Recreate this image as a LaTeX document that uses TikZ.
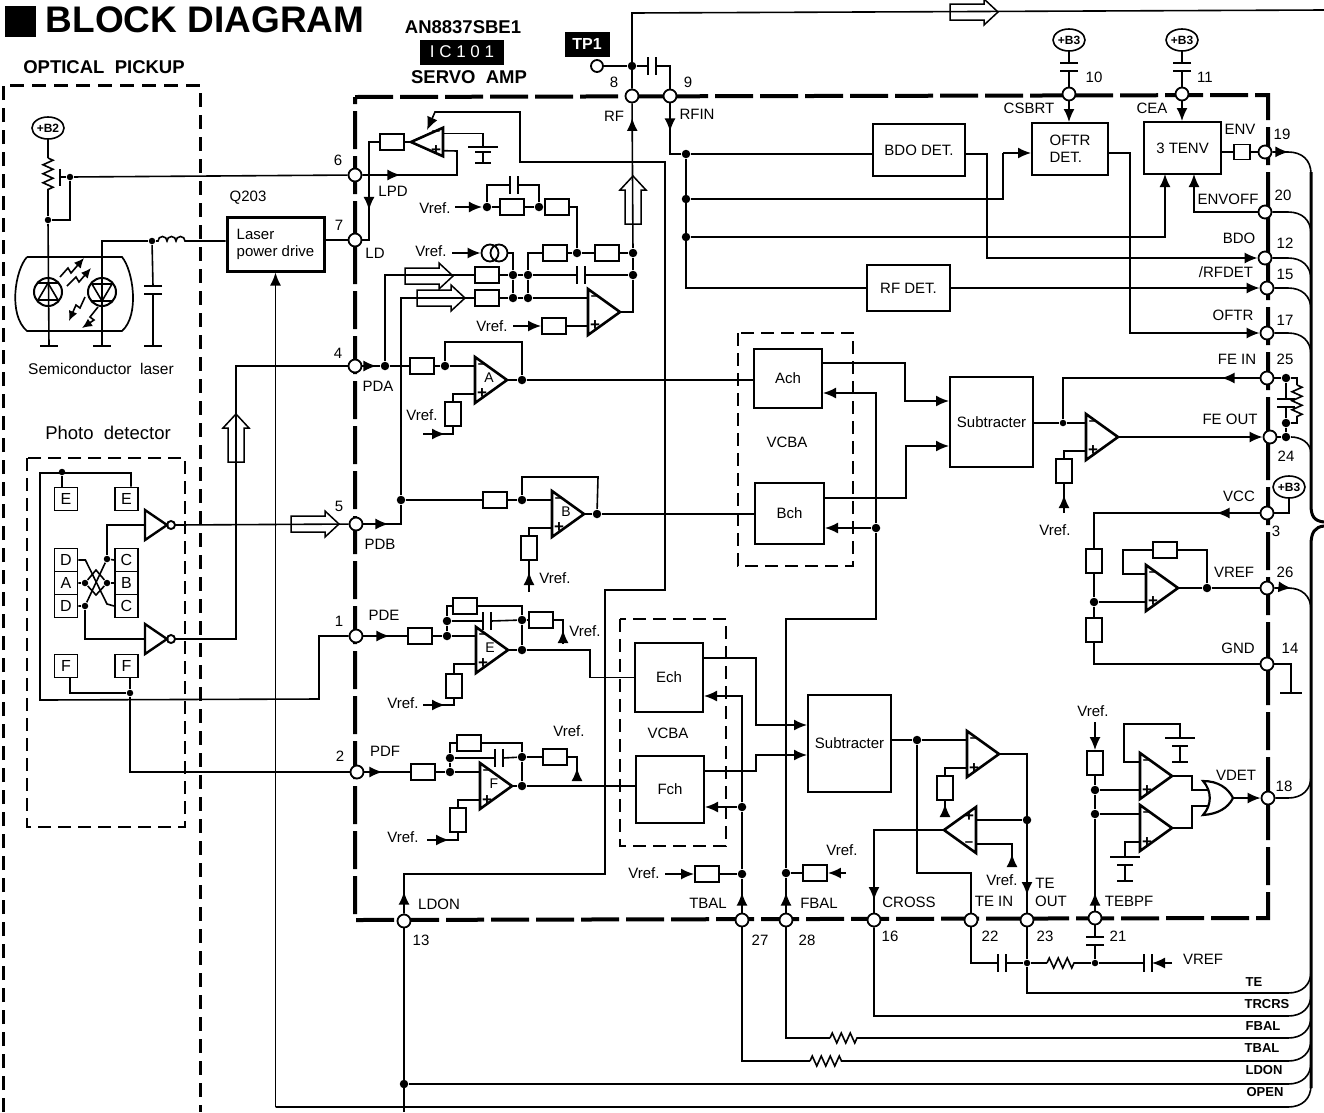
\documentclass[tikz,border=0pt]{standalone}
\usepackage{fontspec}
\setmainfont{Liberation Sans}
\usetikzlibrary{arrows.meta,shapes.geometric,decorations.pathmorphing,decorations.markings,calc}

\begin{document}
\begin{tikzpicture}[
    x=1pt, y=-1pt, line width=1.6pt,
    lbl/.style={font=\fontsize{15}{17}\selectfont, inner sep=0pt},
    smallbold/.style={font=\fontsize{13}{15}\selectfont\bfseries, inner sep=0pt},
    hdr/.style={font=\fontsize{18.5}{20}\selectfont\bfseries, inner sep=0pt},
    pad/.style={circle, draw, fill=white, line width=1.8pt, minimum size=13pt, inner sep=0pt},
    jdot/.style={circle, fill=black, minimum size=8.5pt, inner sep=0pt},
    jsm/.style={jdot, minimum size=6.5pt},
    res/.style={draw, fill=white, line width=1.9pt, minimum width=24pt, minimum height=16pt, inner sep=0pt},
    vres/.style={res, minimum width=16pt, minimum height=24pt},
    block/.style={draw, line width=2pt, font=\fontsize{15}{17}\selectfont, inner sep=0pt},
    cell/.style={draw, line width=1.8pt, minimum size=23pt, inner sep=0pt, font=\fontsize{16}{16}\selectfont},
    supply/.style={ellipse, draw, line width=1.6pt, minimum width=32pt, minimum height=22pt, inner sep=0pt, font=\fontsize{12}{12}\selectfont\bfseries},
    chipframe/.style={line width=4pt, dash pattern=on 38pt off 7pt},
    unitframe/.style={line width=3pt, dash pattern=on 14pt off 8pt},
    subframe/.style={line width=2.3pt, dash pattern=on 13pt off 7pt},
    plate/.style={line width=2.2pt},
    bus/.style={line width=3pt},
    arr/.style={-{Latex[length=13pt,width=11pt]}},
    midtip/.style={postaction={decorate}, decoration={markings, mark=at position #1 with {\arrow{Latex[length=13pt,width=11pt]}}}},
    zig/.style={decorate, decoration={zigzag, amplitude=5pt, segment length=9pt}},
    opamp/.pic={
        \draw[line width=2.6pt] (0,-23) -- (32,0) -- (0,23) -- cycle;
        \node[font=\fontsize{15}{15}\selectfont\bfseries, inner sep=0pt] (-minus) at (7,-14) {--};
        \node[font=\fontsize{17}{17}\selectfont\bfseries, inner sep=0pt] (-plus) at (7,14) {+};
        \node[font=\fontsize{14}{14}\selectfont, inner sep=0pt] (-tag) at (14,-2) {\tikzpictext};
        \coordinate (-m) at (0,-14);
        \coordinate (-p) at (0,14);
        \coordinate (-o) at (32,0);
    },
    hcap/.pic={
        \draw[plate] (-4,-9) -- (-4,9) (4,-9) -- (4,9);
        \coordinate (-l) at (-4,0);
        \coordinate (-r) at (4,0);
    },
    batt/.pic={
        \draw[plate] (-15,0) -- (15,0) (-8,8) -- (8,8) (-8,24) -- (8,24);
        \draw (0,8) -- (0,24);
        \coordinate (-t) at (0,0);
    },
    invgate/.pic={
        \draw[line width=2.4pt] (0,-15) -- (22,0) -- (0,15) -- cycle;
        \draw[line width=1.9pt] (26,0) circle[radius=4];
        \coordinate (-i) at (0,0);
        \coordinate (-o) at (30,0);
    },
    hollow/.pic={
        \draw[line width=1.5pt] (-24,-8) -- (10,-8) -- (10,-13) -- (24,0) -- (10,13) -- (10,8) -- (-24,8) -- cycle;
    }
]
\useasboundingbox (0,0) rectangle (1324,1112);
% Heading
\node[fill=black, minimum size=31pt, inner sep=0pt] (headsq) at (20.5,21.5) {};
\node[font=\fontsize{37}{37}\selectfont\bfseries, anchor=west, inner sep=0pt] (headtxt) at (45,20) {BLOCK DIAGRAM};
\node[hdr] (optic) at (104,67) {OPTICAL\ \ PICKUP};
\node[hdr] (icname) at (463,27) {AN8837SBE1};
\node[fill=black, text=white, minimum width=84pt, minimum height=25pt, inner sep=0pt, font=\fontsize{17}{17}\selectfont] (ictag) at (462,52) {I C 1 0 1};
\node[hdr] (icuse) at (469,77) {SERVO\ \ AMP};
\node[fill=black, text=white, minimum width=45pt, minimum height=25pt, inner sep=0pt, font=\fontsize{16}{16}\selectfont\bfseries] (tptag) at (587,44) {TP1};
% Frames
\draw[unitframe] (3,1112) -- (3,85) -- (200,85) -- (200,1112);
\draw[subframe] (27,458) rectangle (185,827);
\draw[subframe] (738,333) rectangle (853,566);
\draw[subframe] (620,619) rectangle (726,846);
\draw[chipframe] (355,97) -- (1268,95) -- (1268,918) -- (355,920) -- cycle;
% Pads
\foreach \n/\x/\y in {8/632/96, 9/670/96, 10/1069/94, 11/1182/94, 19/1265/152, 20/1265/212, 12/1265/258,
    15/1267/288, 17/1267/333, 25/1267/378, 24/1270/437, 3/1267/513, 26/1267/588, 14/1267/664, 18/1268/798,
    21/1095/918, 23/1027/920, 22/971/920, 16/874/920, 28/786/920, 27/742/920, 13/404/921,
    6/355/175, 7/355/240, 4/355/366, 5/356/524, 1/356/636, 2/357/772} {
    \node[pad] (p\n) at (\x,\y) {};
}
% Junctions
\foreach \n/\x/\y in {ja/70/177, jb/48/220, jc/152/241, jd/62/472, je/107/559, jf/85/583, jg/107/583, jh/85/606, ji/130/693, jq1/1027/963, jq2/1095/963, jfe/1063/423} {
    \node[jsm] (\n) at (\x,\y) {};
}
\foreach \n/\x/\y in {jtp/632/66, jrfa/633/253, jrfb/633/275, jv1/487/207, jv2/539/207, jv3/577/253,
    jc1/513/275, jc2/513/298, jc3/528/275, jc4/528/298, ja1/385/366, ja2/445/366, ja3/522/380,
    jb0/401/500, jb1/522/500, jb2/597/514, je1/447/636, je2/447/621, je3/522/620, je4/522/650,
    jf1/450/772, jf2/450/758, jf3/522/757, jf4/522/786, jt1/742/807, jt2/742/874, jf5/786/873, jb3/876/528,
    jr1/686/154, jr2/686/199, jr3/686/237, jp1/1286/378, jp2/1286/423, jp3/1286/437, jv/1094/602, jv5/1207/588,
    js/917/740, jte/1027/820, jo1/1095/790, jo2/1095/814, jld/404/1084} {
    \node[jdot] (\n) at (\x,\y) {};
}
% Resistors
\foreach \n/\x/\y in {ld/392/142, v1/512/207, v2/557/207, s1/555/253, s2/607/253, i1/487/275, i2/487/298, vp/554/326,
    a/422/366, b/495/500, e1/420/636, e2/465/606, e3/541/620, f1/423/772, f2/469/743, f3/555/757,
    tb/707/874, fb/815/873, vr/1165/550} {
    \node[res] (r\n) at (\x,\y) {};
}
\foreach \n/\x/\y in {a2/453/414, b2/529/548, e4/454/686, f4/458/820, fe/1064/471, vc/1094/561, vd/1094/630, tr/945/788, ob/1095/763} {
    \node[vres] (r\n) at (\x,\y) {};
}
\node[res, minimum width=16pt, minimum height=15pt] (renv) at (1242,152) {};
% Blocks
\node[block, line width=3pt, minimum width=97pt, minimum height=54pt, align=left] (lpd) at (275.5,244) {Laser\\power drive};
\node[block, minimum width=92pt, minimum height=52pt] (bdo) at (919,150) {BDO DET.};
\node[block, minimum width=76pt, minimum height=52pt, align=left] (oftr) at (1070,149) {OFTR\\DET.};
\node[block, minimum width=77pt, minimum height=52pt] (tenv) at (1182.5,148) {3 TENV};
\node[block, minimum width=83pt, minimum height=46pt] (rfd) at (908.5,288) {RF DET.};
\node[block, minimum width=68pt, minimum height=59pt] (ach) at (788,378.5) {Ach};
\node[block, minimum width=69pt, minimum height=61pt] (bch) at (789.5,513.5) {Bch};
\node[block, minimum width=68pt, minimum height=69pt] (ech) at (669,677.5) {Ech};
\node[block, minimum width=68pt, minimum height=67pt] (fch) at (670,789.5) {Fch};
\node[block, minimum width=83pt, minimum height=90pt] (sub1) at (991.5,422) {Subtracter};
\node[block, minimum width=83pt, minimum height=97pt] (sub2) at (849.5,743.5) {Subtracter};
% Op amps
\pic[xscale=-1, yscale=.62, pic text={}] (oLD) at (443,142) {opamp};
\pic (oUP) at (588,312) {opamp};
\pic[pic text=A] (oA) at (475,380) {opamp};
\pic[pic text=B] (oB) at (552,514) {opamp};
\pic[pic text=E] (oE) at (476,650) {opamp};
\pic[pic text=F] (oF) at (480,786) {opamp};
\pic (oFE) at (1086,437) {opamp};
\pic (oV) at (1146,588) {opamp};
\pic (oT1) at (967,754) {opamp};
\pic[rotate=180] (oT2) at (976,830) {opamp};
\pic (oO1) at (1140,776) {opamp};
\pic (oO2) at (1140,828) {opamp};
% Supplies
\node[supply] (b2) at (48,128) {+B2};
\node[supply] (b31) at (1069,40) {+B3};
\node[supply] (b32) at (1182,40) {+B3};
\node[supply] (b33) at (1289,487) {+B3};
% Laser unit
\foreach \n/\x in {gl/49, gm/102, gn/153} {
    \coordinate (\n) at (\x,346);
    \draw[plate] (\n) ++(-9,0) -- ++(18,0);
}
\draw[line width=1.7pt] (27,257) -- (122,257) .. controls (133,270) and (140,315) .. (122,331) -- (27,331) .. controls (8,315) and (15,270) .. (27,257);
\node[circle, draw, line width=2pt, minimum size=28pt, inner sep=0pt] (ldi) at (48,292) {};
\node[circle, draw, line width=2pt, minimum size=28pt, inner sep=0pt] (pdi) at (102,292) {};
\draw[line width=1.6pt] (38,300) -- (58,300) -- (48,283) -- cycle (38,283) -- (58,283);
\draw[line width=1.6pt] (92,284) -- (112,284) -- (102,301) -- cycle (92,301) -- (112,301);
\draw[-{Latex[length=10pt,width=9pt]}] (60,277) -- (68,268) -- (71,273) -- (84,258);
\draw[-{Latex[length=10pt,width=9pt]}] (67,286) -- (76,277) -- (79,282) -- (91,268);
\draw[-{Latex[length=10pt,width=9pt]}] (85,297) -- (80,308) -- (76,305) -- (69,321);
\draw[-{Latex[length=10pt,width=9pt]}] (98,307) -- (90,317) -- (94,320) -- (82,328);
\coordinate (zt) at (48,158);
\coordinate (zb) at (48,193);
\coordinate (wp) at (60,177);
\draw (b2) -- (zt);
\draw[zig] (zt) -- (zb);
\draw (zb) -- (jb) -- (gl);
\draw[plate] (wp) ++(0,-8) -- ++(0,17);
\draw (wp) -- (ja) -- (p6);
\draw (ja) |- (jb);
\draw (gm) |- (jc);
\pic[rotate=-90] (cp1) at (153,290) {hcap};
\draw (jc) -- (cp1-l);
\draw (cp1-r) -- (gn);
\draw (jc) -- ++(6,0) arc[start angle=180, end angle=360, radius=4.5] arc[start angle=180, end angle=360, radius=4.5] arc[start angle=180, end angle=360, radius=4.5] -- (lpd.west |- jc);
\draw (lpd.east |- p7) -- (p7);
% Photo detector
\foreach \n/\t/\x/\y in {e1/E/66/499, e2/E/126.5/499, d1/D/66/560, a/A/66/583, d2/D/66/606, cc1/C/126.5/560, b/B/126.5/583, cc2/C/126.5/606, f1/F/66/666, f2/F/126.5/666} {
    \node[cell] (c\n) at (\x,\y) {\t};
}
\pic (i1) at (145,525) {invgate};
\pic (i2) at (145,639) {invgate};
\coordinate (wa) at (40,473);
\coordinate (wb) at (40,700);
\coordinate (wu) at (236,366);
\draw (ce2.north -| 131,0) |- (wa) -- (wb) -- (319,699) |- (p1);
\draw (jd) -- (jd |- ce1.north);
\draw (cd1.east) -- ++(7,0) -- (107,604) -- (ccc2.west);
\draw (cd2.east) -- (jh) -- (je) -- (ccc1.west);
\draw (ca.east) -- (jf) -- (96,570) -- (jg) -- (96,595) -- (jf);
\draw (jg) -- (cb.west);
\draw (je) |- (i1-i);
\draw (jh) |- (i2-i);
\draw (cf1.south -| 70,0) |- (ji);
\draw (ji |- cf2.south) -- (ji);
\draw (ji) |- (p2);
\draw (i1-o) -- (p5);
\draw (i2-o) -| (wu) -- (p4);
\pic (ha) at (315,524) {hollow};
\pic[rotate=90] (hb) at (236,438) {hollow};
% Laser drive and LD loop
\pic[yscale=.65] (bt1) at (483,147) {batt};
\coordinate (lc) at (457,151);
\coordinate (lk) at (369,240);
\draw[midtip=38pt] (p6) -| (lc) -- (oLD-p);
\draw (oLD-o) -- (rld);
\draw (oLD-m) -| (bt1-t);
\draw[midtip=78pt] (rld) -| (lk) -- (p7);
\draw[arr, midtip=22pt] (p13) |- (605,874) |- (665,590) |- (520,162) |- (435,112) -- (427,130);
% RF section
\coordinate (rfend) at (1324,10);
\node[circle, draw, fill=white, line width=1.8pt, minimum size=12pt, inner sep=0pt] (tp) at (597,66) {};
\pic (cp2) at (652,66) {hcap};
\draw (p8) -- (632,13) -- (rfend);
\draw (tp) -- (jtp) -- (cp2-l);
\draw (cp2-r) -| (p9);
\pic (hc) at (974,12) {hollow};
\draw[midtip=130pt] (jrfa) -- (p8);
\draw (jrfb) -- (jrfa);
\draw (oUP-o) -| (jrfb);
\pic[rotate=90] (hd) at (633,200) {hollow};
\coordinate (vf1) at (455,207);
\coordinate (vf2) at (452,253);
\coordinate (vf3) at (513,326);
\draw[arr] (vf1) -- (jv1);
\draw (jv1) -- (rv1) -- (jv2) -- (rv2);
\draw (rv2) -| (jv3);
\pic (cp3) at (514,185) {hcap};
\draw (jv1) |- (cp3-l);
\draw (cp3-r) -| (jv2);
\node[circle, draw, line width=1.8pt, minimum size=17pt, inner sep=0pt] (cs1) at (490,253) {};
\node[circle, draw, line width=1.8pt, minimum size=17pt, inner sep=0pt] (cs2) at (499,253) {};
\draw[arr] (vf2) -- (cs1);
\draw (cs2) -| (jc1);
\pic (cp4) at (581,275) {hcap};
\draw (ri1) -- (jc1) -- (jc3) -- (cp4-l);
\draw (cp4-r) -- (jrfb);
\draw (ri2) -- (jc2) -- (jc4) -- (oUP-m);
\draw (jc1) -- (jc2);
\draw (jc3) -- (jc4);
\draw (jc3) |- (rs1);
\draw (rs1) -- (jv3) -- (rs2) -- (jrfa);
\draw[arr] (vf3) -- (rvp);
\draw (rvp) -- (oUP-p);
\draw (ja1) |- (ri1);
\draw (jb0) |- (ri2);
\pic (he) at (429,276) {hollow};
\pic (hf) at (441,298) {hollow};
% PDA and PDB
\coordinate (vf4) at (423,434);
\coordinate (vf5) at (529,592);
\draw[midtip=14pt] (p4) -- (ja1);
\draw (ja1) -- (ra) -- (ja2) -- (oA-m);
\draw (ja2) |- (522,342) -- (ja3);
\draw (oA-o) -- (ja3) -- (ach.west |- ja3);
\draw (oA-p) -| (ra2);
\draw[midtip=22pt] (vf4) -| (ra2);
\draw[midtip=25pt] (p5) -| (jb0);
\draw (jb0) -- (rb) -- (jb1) -- (oB-m);
\draw (jb1) |- (598,477) -- (jb2);
\draw (oB-o) -- (jb2) -- (bch.west |- jb2);
\draw (oB-p) -| (rb2);
\draw[midtip=20pt] (vf5) -- (rb2);
% PDE and PDF
\coordinate (vf6) at (563,644);
\coordinate (vf7) at (423,705);
\coordinate (vf8) at (577,780);
\coordinate (vf9) at (427,840);
\pic (cp5) at (487,621) {hcap};
\pic (cp6) at (499,758) {hcap};
\draw[midtip=26pt] (p1) -- (re1);
\draw (re1) -- (je1) -- (oE-m);
\draw (je1) -- (je2);
\draw (je2) |- (re2);
\draw (re2) -| (je3);
\draw (je2) -- (cp5-l);
\draw (cp5-r) -- (je3) -- (je4);
\draw (oE-o) -- (je4);
\draw (je3) -- (re3);
\draw[midtip=14pt] (vf6) |- (re3);
\draw (je4) -| (590,660) |- (ech);
\draw (oE-p) -| (re4);
\draw[midtip=22pt] (vf7) -| (re4);
\draw[midtip=18pt] (p2) -- (rf1);
\draw (rf1) -- (jf1) -- (oF-m);
\draw (jf1) -- (jf2);
\draw (jf2) |- (rf2);
\draw (rf2) -| (jf3);
\draw (jf2) -- (cp6-l);
\draw (cp6-r) -- (jf3) -- (jf4);
\draw (jf3) -- (rf3);
\draw[midtip=12pt] (vf8) |- (rf3);
\draw (oF-o) -- (jf4) -- (fch.west |- jf4);
\draw (oF-p) -| (rf4);
\draw[midtip=22pt] (vf9) -| (rf4);
% VCBA lines
\coordinate (vf10) at (846,873);
\coordinate (vf11) at (665,874);
\draw[arr] (ach.east |- 0,363) -| (905,380) |- (sub1.west |- 0,401);
\draw[arr] (bch.east |- 0,498) -| (906,480) |- (sub1.west |- 0,446);
\draw[arr] (jb3) -- (bch.east |- jb3);
\draw[arr] (jb3) |- (ach.east |- 0,393);
\draw[midtip=20pt] (p28) -- (jf5);
\draw (jf5) -- (786,619) -| (jb3);
\draw (rfb) -- (jf5);
\draw[arr] (vf10) -- (rfb);
\draw[midtip=20pt] (p27) -- (jt2);
\draw (jt2) -- (jt1);
\draw[arr] (jt1) |- (ech.east |- 0,696);
\draw[arr] (jt1) -- (fch.east |- jt1);
\draw (rtb) -- (jt2);
\draw[arr] (vf11) -- (rtb);
\draw[arr] (ech.east |- 0,658) -| (756,690) |- (sub2.west |- 0,725);
\draw[arr] (fch.east |- 0,771) -| (756,762) |- (sub2.west |- 0,755);
% Detector row
\pic[rotate=-90] (cp7) at (1069,67) {hcap};
\pic[rotate=-90] (cp8) at (1182,67) {hcap};
\coordinate (kk) at (1003,153);
\coordinate (te1) at (1165,174);
\coordinate (te2) at (1194,174);
\draw (b31) -- (cp7-l);
\draw (cp7-r) -- (p10);
\draw (b32) -- (cp8-l);
\draw (cp8-r) -- (p11);
\draw[arr] (p10) -- (oftr.north -| p10);
\draw[arr] (p11) -- (tenv.north -| p11);
\draw[midtip=28pt] (p9) |- (jr1);
\draw (jr1) -- (bdo.west |- jr1);
\draw (jr1) |- (rfd);
\draw (jr2) -| (kk);
\draw[arr] (kk) -- (oftr.west |- kk);
\draw[arr] (jr3) -| (te1);
\draw[arr] (p20) -| (te2);
\draw (tenv.east |- renv) -- (renv) -- (p19);
\draw[arr] (bdo.east |- jr1) -| (987,200) |- (p12);
\draw[arr] (rfd) -- (p15);
\draw[arr] (oftr.east |- kk) -| (1130,250) |- (p17);
% Focus error
\coordinate (vf12) at (1064,513);
\coordinate (zz1) at (1297,385);
\coordinate (zz2) at (1297,418);
\draw (sub1.east |- jfe) -- (jfe) -- (oFE-m);
\draw[arr] (oFE-o) -- (p24);
\draw[midtip=38pt] (p25) -| (jfe);
\draw (oFE-p) -| (rfe);
\draw[midtip=18pt] (vf12) -- (rfe);
\pic[rotate=-90] (cp9) at (1286,403) {hcap};
\draw (p25) -- (jp1) -- (cp9-l);
\draw (cp9-r) -- (jp2) -- (jp3);
\draw (p24) -- (jp3);
\draw (jp1) -| (zz1);
\draw[zig] (zz1) -- (zz2);
\draw (zz2) |- (jp2);
% VREF generator
\coordinate (gr) at (1291,693);
\draw (b33) |- (p3);
\draw[midtip=43pt] (p3) -| (rvc);
\draw (rvc) -- (jv) -- (rvd);
\draw (rvd) |- (p14);
\draw (jv) -- (oV-p);
\draw (oV-m) -| (1123,560) |- (rvr);
\draw (rvr) -| (jv5);
\draw (oV-o) -- (jv5) -- (p26);
\draw (p14) -| (gr);
\draw[plate] (gr) ++(-11,0) -- ++(22,0);
% Tracking section
\coordinate (vf13) at (945,816);
\coordinate (vf14) at (1012,866);
\coordinate (vf15) at (1172,963);
\coordinate (vf16) at (1095,722);
\draw (sub2.east |- js) -- (js) -- (oT1-m);
\draw (oT1-p) -| (rtr);
\draw[midtip=12pt] (vf13) -- (rtr);
\draw[midtip=169pt] (oT1-o) -| (p23);
\draw (jte) -- (oT2-p |- jte);
\draw[midtip=12pt] (vf14) |- (oT2-m);
\draw[midtip=140pt] (oT2-o) -| (p16);
\draw (js) -- (917,873) -| (p22);
\pic (cp10) at (1002,963) {hcap};
\pic (cp11) at (1148,963) {hcap};
\pic[rotate=-90] (cp12) at (1095,941) {hcap};
\coordinate (z3) at (1047,963);
\coordinate (z4) at (1077,963);
\draw (p22) |- (cp10-l);
\draw (cp10-r) -- (jq1) -- (z3);
\draw[zig] (z3) -- (z4);
\draw (z4) -- (jq2) -- (cp11-l);
\draw[arr] (vf15) -- (cp11-r);
\draw (p23) -- (jq1);
\draw (p21) -- (cp12-l);
\draw (cp12-r) -- (jq2);
\draw[midtip=18pt] (p21) -- (jo2);
\draw (jo2) -- (jo1) -- (rob);
\draw[arr] (vf16) -- (rob);
\draw (jo1) -- (oO1-p);
\draw (jo2) -- (oO2-m);
\pic (bt2) at (1180,738) {batt};
\pic (bt3) at (1125,857) {batt};
\draw (oO1-m) -- (1124,762) |- (1180,724) -- (bt2-t);
\draw (oO2-p) -| (bt3-t);
\coordinate (orA) at (1209,790);
\coordinate (orB) at (1209,806);
\coordinate (orO) at (1233,798);
\draw[line width=2.2pt] (1203,781) .. controls (1218,781) and (1228,788) .. (orO) .. controls (1228,808) and (1218,814) .. (1203,815) .. controls (1212,805) and (1212,791) .. (1203,781) -- cycle;
\draw (oO1-o) -| (1192,783) |- (orA);
\draw (oO2-o) -| (1192,815) |- (orB);
\draw[arr] (orO) -- (p18);
% Bus on the right
\draw[bus] (1311,172) -- (1311,505) .. controls (1311,516) and (1314,521) .. (1324,522);
\draw[bus] (1324,526) .. controls (1315,527) and (1311,532) .. (1311,545) -- (1311,1088);
\draw[midtip=16pt] (p19) -- (1288,152) .. controls (1302,152) and (1311,160) .. (1311,174);
\foreach \n/\y in {20/212, 12/258, 15/288, 17/333} {
    \draw (p\n) -- (1288,\y) .. controls (1302,\y) and (1311,\y+8) .. (1311,\y+22);
}
\draw (jp3) .. controls (1300,437) and (1311,442) .. (1311,454);
\draw[midtip=17pt] (p26) -- (1288,588) .. controls (1302,588) and (1311,596) .. (1311,610);
\draw (p18) -- (1288,798) .. controls (1302,798) and (1311,790) .. (1311,776);
\coordinate (fz1) at (830,1038);
\coordinate (fz2) at (860,1038);
\coordinate (tz1) at (810,1061);
\coordinate (tz2) at (842,1061);
\coordinate (ob) at (275.5,1107);
\coordinate (ldend) at (404,1112);
\draw (jq1) |- (1288,993) .. controls (1302,993) and (1311,985) .. (1311,971);
\draw (p16) |- (1288,1016) .. controls (1302,1016) and (1311,1008) .. (1311,994);
\draw (p28) |- (fz1);
\draw[zig] (fz1) -- (fz2);
\draw (fz2) -- (1288,1038) .. controls (1302,1038) and (1311,1030) .. (1311,1016);
\draw (p27) |- (tz1);
\draw[zig] (tz1) -- (tz2);
\draw (tz2) -- (1288,1061) .. controls (1302,1061) and (1311,1053) .. (1311,1039);
\draw (jld) -- (1288,1084) .. controls (1302,1084) and (1311,1076) .. (1311,1062);
\draw (ob) -- (1288,1107) .. controls (1302,1107) and (1311,1099) .. (1311,1085);
\draw[arr] (ob) -- (lpd.south);
\draw (p13) -- (ldend);
% Texts
\node[lbl, font=\fontsize{15.5}{17}\selectfont] (semi) at (101,369) {Semiconductor\ \ laser};
\node[lbl, font=\fontsize{18.5}{20}\selectfont] (photo) at (108,433) {Photo\ \ detector};
\foreach \t/\x/\y [count=\i] in {Q203/248/198, LPD/393/191, LD/375/253, PDA/378/386, PDB/380/544, PDE/384/615, PDF/385/751,
    LDON/439/904, RF/614/116, RFIN/697/114, Vref./435/208, Vref./431/251, Vref./492/326, Vref./422/415, Vref./555/578,
    Vref./585/631, Vref./403/703, Vref./569/731, Vref./403/837, Vref./644/873, Vref./842/850, Vref./1055/530,
    Vref./1002/880, Vref./1093/711, CSBRT/1029/108, CEA/1152/108, ENV/1240/129, ENVOFF/1228/199, BDO/1239/238,
    {/RFDET}/1226/272, OFTR/1233/315, FE IN/1237/359, FE OUT/1230/419, VCC/1239/496, VREF/1234/572, GND/1238/648,
    VDET/1236/775, TBAL/708/903, FBAL/819/903, CROSS/909/902, TE IN/994/901, TE/1045/883, OUT/1051/901, TEBPF/1129/901,
    VREF/1203/959, VCBA/787/442, VCBA/668/733} {
    \node[lbl] (lab\i) at (\x,\y) {\t};
}
\foreach \t/\x/\y in {6/338/160, 7/339/225, 4/338/353, 5/339/506, 1/339/621, 2/340/756, 8/614/82, 9/688/82, 10/1094/77, 11/1205/77,
    19/1282/134, 20/1283/195, 12/1285/243, 15/1285/274, 17/1285/320, 25/1285/359, 24/1286/456, 3/1276/531, 26/1285/572, 14/1290/648,
    18/1284/786, 21/1118/936, 23/1045/936, 22/990/936, 16/890/936, 28/807/940, 27/760/940, 13/421/940} {
    \node[lbl] (num\t) at (\x,\y) {\t};
}
\foreach \t/\x/\y [count=\i] in {TE/1254/982, TRCRS/1267/1004, FBAL/1263/1026, TBAL/1262/1048, LDON/1264/1070, OPEN/1265/1092} {
    \node[smallbold] (bus\i) at (\x,\y) {\t};
}
\end{tikzpicture}
\end{document}
